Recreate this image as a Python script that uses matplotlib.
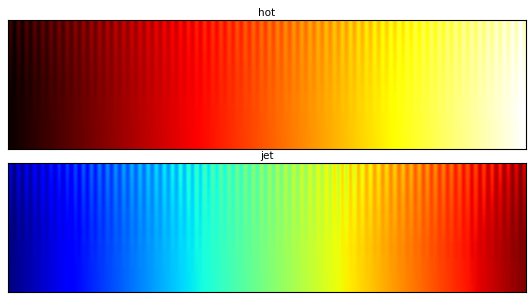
import numpy as np
import matplotlib
matplotlib.use("Agg")
import matplotlib.pyplot as plt

# Test-pattern parameters (sine ripple on a linear ramp)
cmap_names = ["hot", "jet"]
n_cols = 512
n_rows = 128
wavelength = 8
amplitude = 0.05
falloff_power = 2

x = np.arange(n_cols)
ramp = x / (n_cols - 1)
ripple = amplitude * np.sin(2 * np.pi * x / wavelength)
yfrac = ((n_rows - 1 - np.arange(n_rows)) / (n_rows - 1)) ** falloff_power
img = ramp[None, :] + yfrac[:, None] * ripple[None, :]
# normalise each row to 0..1
img = (img - img.min(axis=1, keepdims=True)) / (img.max(axis=1, keepdims=True) - img.min(axis=1, keepdims=True))

fig = plt.figure(figsize=(5.32, 3.0), dpi=100)
rects = [[8/532, 1-149/300, 518/532, 129/300],
         [8/532, 1-292/300, 518/532, 129/300]]
for name, r in zip(cmap_names, rects):
    ax = fig.add_axes(r)
    ax.imshow(img, cmap=name, aspect="auto", interpolation="antialiased")
    ax.set_xticks([])
    ax.set_yticks([])
    ax.set_title(name, fontsize=7.5, pad=3)
fig.savefig("out.png", dpi=100)
